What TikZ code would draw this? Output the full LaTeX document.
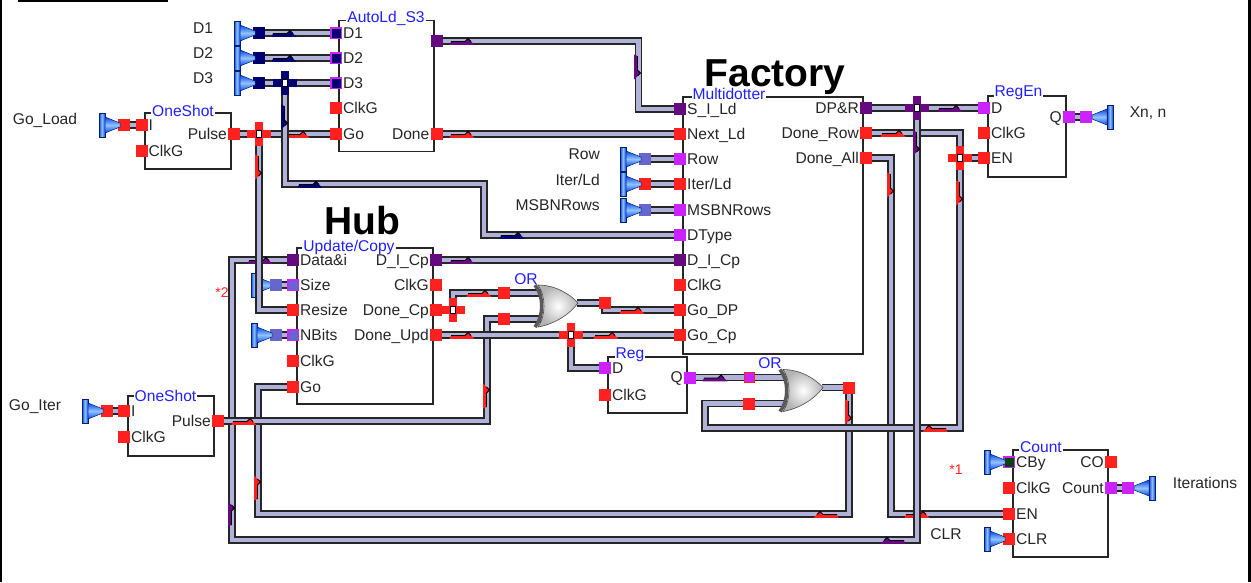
\documentclass[tikz,border=0pt]{standalone}
\usepackage{fontspec}
\setmainfont{Liberation Sans}
\usetikzlibrary{backgrounds}

\definecolor{pinred}{HTML}{FF2020}
\definecolor{pinmag}{HTML}{CC22FF}
\definecolor{pinpurple}{HTML}{660A80}
\definecolor{pinnavy}{HTML}{000070}
\definecolor{pinperi}{HTML}{6666CC}
\definecolor{pingreen}{HTML}{004400}
\definecolor{wirefill}{HTML}{B0B2D8}
\definecolor{hornblue}{HTML}{0A48F0}
\definecolor{hornlight}{HTML}{90C4FF}
\definecolor{titleblue}{HTML}{2020FF}

\newcommand{\flowmark}{%
    \fill[pic actions] (-12.5pt,-3.8pt) -- (-11pt,-0.5pt) -- (3pt,-0.5pt) -- (6pt,2.5pt) -- (12.5pt,-3.8pt) -- cycle;
    \draw[black, line width=0.8pt] (-11pt,-0.5pt) -- (3pt,-0.5pt) -- (6pt,2.5pt) -- (9pt,-0.5pt);
}
\newcommand{\hornshape}{%
    \shade[left color=hornblue, right color=hornblue, middle color=hornlight, draw=hornblue!45!black, line width=0.9pt] (0,-12) rectangle (6,12);
    \shade[top color=hornblue, bottom color=hornblue, middle color=hornlight, draw=hornblue!45!black, line width=0.5pt]
        (6,-8) -- (21,-2) -- (21,2) -- (6,8) -- cycle;
}

\tikzset{
    flow right/.pic={\flowmark},
    flow left/.pic={\begin{scope}[xscale=-1]\flowmark\end{scope}},
    flow down/.pic={\begin{scope}[rotate=-90]\flowmark\end{scope}},
    flow up/.pic={\begin{scope}[yscale=-1,rotate=-90]\flowmark\end{scope}},
    horn right/.pic={\hornshape},
    horn left/.pic={\begin{scope}[xscale=-1]\hornshape\end{scope}},
    junction/.pic={
        \fill[pic actions] (-12,-4) rectangle (12,4);
        \fill[pic actions] (-4,-12) rectangle (4,12);
        \draw[black, fill=white, line width=0.8pt] (-2.5,-3.5) rectangle (2.5,3.5);
        \coordinate (-c) at (0,0);
    },
    orgate/.pic={
        \shade[inner color=white, outer color=black!30, draw=black!70, line width=0.6pt]
            (3,-21) .. controls (20,-21) and (35,-12) .. (43,-3)
            .. controls (35,8) and (20,18) .. (3,21)
            .. controls (11,10) and (11,-10) .. (3,-21) -- cycle;
        \draw[black!65, line width=3.5pt] (0,-21) .. controls (9,-10) and (9,10) .. (0,21);
        \coordinate (-a) at (7,-13);
        \coordinate (-b) at (7,13);
        \coordinate (-o) at (42,-3);
    }
}

\begin{document}
\begin{tikzpicture}[
        x=1pt, y=-1pt,
        every node/.style={font=\fontsize{15.6}{18}\selectfont, text=black!85},
        block/.style={draw=black!85, fill=white, line width=1.2pt, inner sep=0pt},
        block title/.style={fill=white, inner sep=1pt, text=titleblue},
        port/.style={minimum size=12pt, inner sep=0pt, outer sep=0pt},
        red port/.style={port, fill=pinred},
        mag port/.style={port, fill=pinmag},
        purple port/.style={port, fill=pinpurple},
        navy port/.style={port, fill=pinnavy},
        peri port/.style={port, fill=pinperi},
        framed port/.style={minimum size=10.5pt, inner sep=0pt, outer sep=0.75pt, draw=pinmag, line width=1.5pt, fill=#1},
        port text/.style={inner sep=0pt, text height=10.5pt, text depth=0pt, label distance=1pt},
        side text/.style={inner sep=0pt},
        big text/.style={font=\fontsize{39}{41}\selectfont\bfseries, text=black, inner sep=0pt, anchor=base},
        note/.style={font=\fontsize{14}{16}\selectfont, text=pinred, inner sep=0pt},
        wire/.style={draw=black!85, line width=1.6pt, double=wirefill, double distance=4.4pt, miter limit=10}
    ]
    \useasboundingbox (0,0) rectangle (1251,582);

    % frame scraps
    \draw[line width=1.5pt] (0.75,0) -- (0.75,582);
    \draw[line width=3pt] (1249.5,0) -- (1249.5,582);
    \draw[line width=2pt] (18,1) -- (168,1);

    % blocks
    \node[block, minimum width=95pt, minimum height=131.5pt] (autold) at (386.5,86) {};
    \node[block, minimum width=86pt, minimum height=56pt] (loadshot) at (188,141) {};
    \node[block, minimum width=86pt, minimum height=60pt] (itershot) at (171,426) {};
    \node[block, minimum width=136pt, minimum height=156pt] (hub) at (365,326) {};
    \node[block, minimum width=180pt, minimum height=257pt] (factory) at (773,225.5) {};
    \node[block, minimum width=78pt, minimum height=81pt] (regen) at (1027,136.5) {};
    \node[block, minimum width=79pt, minimum height=56pt] (reg) at (647.5,385) {};
    \node[block, minimum width=95pt, minimum height=107pt] (count) at (1060.5,503.5) {};

    \node[block title] (autoldt) at (386,18) {AutoLd\_S3};
    \node[block title] (loadshott) at (183,111) {OneShot};
    \node[block title] (itershott) at (165.5,396) {OneShot};
    \node[block title] (hubt) at (349,247) {Update/Copy};
    \node[block title] (factoryt) at (729,94) {Multidotter};
    \node[block title] (regent) at (1018.5,93) {RegEn};
    \node[block title] (regt) at (630,355) {Reg};
    \node[block title] (countt) at (1041,447) {Count};
    \node[block title] (or1t) at (526,279) {OR};
    \node[block title] (or2t) at (770,363) {OR};

    \node[big text] (factorylbl) at (775,86) {Factory};
    \node[big text] (hublbl) at (362,234) {Hub};
    \node[note] (note2) at (222,293) {*2};
    \node[note] (note1) at (956,470) {*1};

    % free labels
    \node[side text] (d1lbl) at (203,28) {D1};
    \node[side text] (d2lbl) at (203,53) {D2};
    \node[side text] (d3lbl) at (203,78) {D3};
    \node[side text] (goloadlbl) at (45,120) {Go\_Load};
    \node[side text] (goiterlbl) at (35,407) {Go\_Iter};
    \node[side text, anchor=east] (rowlbl) at (600,154) {Row};
    \node[side text, anchor=east] (iterlbl) at (600,180) {Iter/Ld};
    \node[side text, anchor=east] (msbnlbl) at (600,205) {MSBNRows};
    \node[side text] (xnlbl) at (1148,113) {Xn, n};
    \node[side text] (iterslbl) at (1205,483) {Iterations};
    \node[side text] (clrlbl) at (946,534) {CLR};

    % ports of AutoLd_S3
    \node[framed port=pinnavy, label={[port text]right:D1}] (aD1) at (336,33) {};
    \node[framed port=pinnavy, label={[port text]right:D2}] (aD2) at (336,58) {};
    \node[framed port=pinnavy, label={[port text]right:D3}] (aD3) at (336,83) {};
    \node[red port, label={[port text]right:ClkG}] (aClk) at (336,108) {};
    \node[red port, label={[port text]right:Go}] (aGo) at (336,134) {};
    \node[red port, label={[port text]left:Done}] (aDone) at (436.5,134) {};
    \node[purple port] (aOut) at (436.5,41) {};

    % ports of the first OneShot
    \node[red port, label={[port text]right:I}] (lI) at (141.5,125) {};
    \node[red port, label={[port text]right:ClkG}] (lClk) at (141.5,151) {};
    \node[red port, label={[port text]left:Pulse}] (lPulse) at (234,134) {};

    % ports of the second OneShot
    \node[red port, label={[port text]right:I}] (iI) at (124,411) {};
    \node[red port, label={[port text]right:ClkG}] (iClk) at (124,437) {};
    \node[red port, label={[port text]left:Pulse}] (iPulse) at (218,421) {};

    % ports of Update/Copy
    \node[purple port, label={[port text]right:Data\&i}] (hData) at (293,260) {};
    \node[framed port=pinperi, label={[port text]right:Size}] (hSize) at (293,285) {};
    \node[red port, label={[port text]right:Resize}] (hResize) at (293,310) {};
    \node[framed port=pinperi, label={[port text]right:NBits}] (hNBits) at (293,335) {};
    \node[red port, label={[port text]right:ClkG}] (hClk) at (293,361) {};
    \node[red port, label={[port text]right:Go}] (hGo) at (293,387) {};
    \node[purple port, label={[port text]left:D\_I\_Cp}] (hDICp) at (436,260) {};
    \node[red port, label={[port text]left:ClkG}] (hClkR) at (436,285) {};
    \node[red port, label={[port text]left:Done\_Cp}] (hDoneCp) at (436,310) {};
    \node[red port, label={[port text]left:Done\_Upd}] (hDoneUpd) at (436,335) {};

    % ports of Multidotter
    \node[purple port, label={[port text]right:S\_I\_Ld}] (fSLd) at (680,109) {};
    \node[red port, label={[port text]right:Next\_Ld}] (fNext) at (680,134) {};
    \node[mag port, label={[port text]right:Row}] (fRow) at (680,159) {};
    \node[red port, label={[port text]right:Iter/Ld}] (fIter) at (680,184) {};
    \node[mag port, label={[port text]right:MSBNRows}] (fMsbn) at (680,210) {};
    \node[mag port, label={[port text]right:DType}] (fDType) at (680,235) {};
    \node[purple port, label={[port text]right:D\_I\_Cp}] (fDICp) at (680,260) {};
    \node[red port, label={[port text]right:ClkG}] (fClk) at (680,285) {};
    \node[red port, label={[port text]right:Go\_DP}] (fGoDP) at (680,310) {};
    \node[red port, label={[port text]right:Go\_Cp}] (fGoCp) at (680,335) {};
    \node[purple port, label={[port text]left:DP\&R}] (fDPR) at (866,108) {};
    \node[red port, label={[port text]left:Done\_Row}] (fDoneRow) at (866,133) {};
    \node[red port, label={[port text]left:Done\_All}] (fDoneAll) at (866,158) {};

    % ports of RegEn
    \node[mag port, label={[port text]right:D}] (rD) at (984,108) {};
    \node[red port, label={[port text]right:ClkG}] (rClk) at (984,133) {};
    \node[red port, label={[port text]right:EN}] (rEN) at (984,158) {};
    \node[mag port, label={[port text]left:Q}] (rQ) at (1069,117) {};

    % ports of Reg
    \node[mag port, label={[port text]right:D}] (gD) at (605,368) {};
    \node[red port, label={[port text]right:ClkG}] (gClk) at (605,395) {};
    \node[mag port, label={[port text]left:Q}] (gQ) at (690,377.5) {};

    % ports of Count
    \node[framed port=pingreen, label={[port text]right:CBy}] (cCBy) at (1009,462) {};
    \node[red port, label={[port text]right:ClkG}] (cClk) at (1009,488) {};
    \node[red port, label={[port text]right:EN}] (cEN) at (1009,514) {};
    \node[red port, label={[port text]right:CLR}] (cCLR) at (1009,539) {};
    \node[red port, label={[port text]left:CO}] (cCO) at (1111,462) {};
    \node[mag port, label={[port text]left:Count}] (cCount) at (1111,488) {};

    % ports beside the horns
    \node[navy port] (d1) at (259,33) {};
    \node[navy port] (d2) at (259,58) {};
    \node[navy port] (d3) at (259,83) {};
    \node[red port] (goload) at (124,125) {};
    \node[red port] (goiter) at (107,411) {};
    \node[peri port] (size) at (276,285) {};
    \node[peri port] (nbits) at (276,335) {};
    \node[peri port] (row) at (645,159) {};
    \node[red port] (iterld) at (645,184) {};
    \node[peri port] (msbn) at (645,210) {};
    \node[mag port] (xn) at (1086,117) {};
    \node[mag port] (iters) at (1128,488) {};

    % ports beside the gates
    \node[red port] (up1) at (504,293) {};
    \node[red port] (low1) at (504,319) {};
    \node[red port] (out1) at (605,303) {};
    \node[mag port, draw=pinred, line width=1pt, minimum size=10pt] (up2) at (749,377.5) {};
    \node[red port] (low2) at (749,403.5) {};
    \node[red port] (out2) at (849,387.5) {};

    % gates and horns
    \pic (or1) at (535,306) {orgate};
    \pic (or2) at (780,390.5) {orgate};
    \pic at (234,33) {horn right};
    \pic at (234,58) {horn right};
    \pic at (234,83) {horn right};
    \pic at (99,125) {horn right};
    \pic at (82,411) {horn right};
    \pic at (251,335) {horn right};
    \pic at (620,159) {horn right};
    \pic at (620,184) {horn right};
    \pic at (620,210) {horn right};
    \pic at (984,462) {horn right};
    \pic at (984,539) {horn right};
    \pic at (1113,117) {horn left};
    \pic at (1155,488) {horn left};

    % junctions
    \pic[fill=pinnavy] (jd3) at (285,83) {junction};
    \pic[fill=pinred] (jgo) at (259,134) {junction};
    \pic[fill=pinpurple] (jdp) at (917,108) {junction};
    \pic[fill=pinred] (jen) at (960,158) {junction};
    \pic[fill=pinred] (jcp) at (453,310) {junction};
    \pic[fill=pinred] (jreg) at (571,335) {junction};

    % wires
    \begin{scope}[on background layer]
        \pic at (251,285) {horn right};

        \draw[wire] (d1) -- (aD1);
        \pic[fill=pinnavy] at (284,33) {flow right};
        \draw[wire] (d2) -- (aD2);
        \pic[fill=pinnavy] at (284,58) {flow right};
        \draw[wire] (d3) -- (aD3);
        \draw[wire] (goload) -- (lI);
        \draw[wire] (goiter) -- (iI);
        \draw[wire] (lPulse) -- (aGo);
        \pic[fill=pinred] at (297,134) {flow right};
        \draw[wire] (jd3-c) |- ++(199,101) |- (fDType);
        \pic[fill=pinnavy] at (285,117) {flow down};
        \pic[fill=pinnavy] at (310,184) {flow right};
        \pic[fill=pinnavy] at (512,235) {flow right};

        \draw[wire] (aOut) -- ++(202,0) |- (fSLd);
        \pic[fill=pinpurple] at (462,41) {flow right};
        \pic[fill=pinpurple] at (638,67) {flow down};
        \draw[wire] (aDone) -- (fNext);
        \pic[fill=pinred] at (462,134) {flow right};

        \draw[wire] (row) -- (fRow);
        \draw[wire] (iterld) -- (fIter);
        \draw[wire] (msbn) -- (fMsbn);

        % Go of the hub, from the second gate
        \draw[wire] (out2) -- ++(0,126.5) -| ++(-591,-127) -- (hGo);
        \pic[fill=pinred] at (849,412) {flow down};
        \pic[fill=pinred] at (826,514) {flow left};
        \pic[fill=pinred] at (258,488) {flow up};

        \draw[wire] (fDoneAll) -- ++(25,0) |- (cEN);
        \pic[fill=pinred] at (891,185) {flow down};
        \pic[fill=pinred] at (917,514) {flow right};

        \draw[wire] (fDoneRow) -- ++(94,0) -- ++(0,295) -- ++(-255,0) |- (low2);
        \pic[fill=pinred] at (893,133) {flow right};
        \pic[fill=pinred] at (960,193) {flow down};
        \pic[fill=pinred] at (935,428) {flow left};
        \draw[wire] (jen-c) -- (rEN);

        \draw[wire] (fDPR) -- (rD);
        \pic[fill=pinpurple] at (950,108) {flow right};
        \draw[wire] (jdp-c) -- ++(0,432) -- ++(-685,0) |- (hData);
        \pic[fill=pinpurple] at (917,143) {flow down};
        \pic[fill=pinpurple] at (893,540) {flow left};
        \pic[fill=pinpurple] at (232,514) {flow up};
        \pic[fill=pinpurple] at (260,260) {flow right};

        \draw[wire] (jgo-c) |- (hResize);
        \pic[fill=pinred] at (259,167) {flow down};

        \draw[wire] (iPulse) -- ++(269,0) |- (low1);
        \pic[fill=pinred] at (244,421) {flow right};
        \pic[fill=pinred] at (487,396) {flow up};

        \draw[wire] (size) -- (hSize);
        \draw[wire] (nbits) -- (hNBits);
        \draw[wire] (hDICp) -- (fDICp);
        \pic[fill=pinpurple] at (462,260) {flow right};
        \draw[wire] (hDoneUpd) -- (fGoCp);
        \pic[fill=pinred] at (462,335) {flow right};
        \pic[fill=pinred] at (606,335) {flow right};
        \draw[wire] (hDoneCp) -- (jcp-c);
        \draw[wire] (jcp-c) |- (up1);
        \pic[fill=pinred] at (479,293) {flow right};
        \draw[wire] (up1) -- (or1-a);
        \draw[wire] (low1) -- (or1-b);
        \draw[wire] (or1-o) -- (out1);
        \draw[wire] (out1) |- (fGoDP);
        \pic[fill=pinred] at (632,310) {flow right};
        \draw[wire] (jreg-c) |- (gD);

        \draw[wire] (gQ) -- (up2);
        \pic[fill=pinpurple] at (715,377.5) {flow right};
        \draw[wire] (up2) -- (or2-a);
        \draw[wire] (low2) -- (or2-b);
        \draw[wire] (or2-o) -- (out2);

        \draw[wire] (rQ) -- (xn);
        \draw[wire] (cCount) -- (iters);
    \end{scope}
\end{tikzpicture}
\end{document}
